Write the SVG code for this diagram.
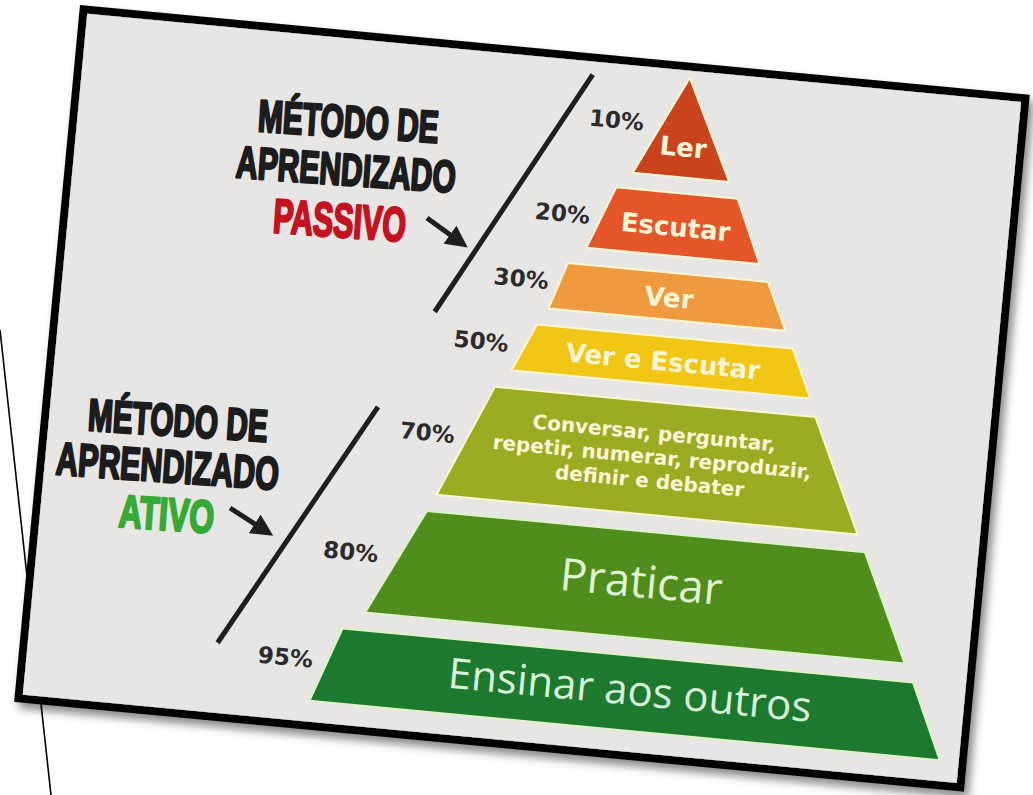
<svg xmlns="http://www.w3.org/2000/svg" width="1033" height="795" viewBox="0 0 1033 795">
<defs>
<filter id="shadow" x="-5%" y="-5%" width="112%" height="115%">
<feDropShadow dx="5" dy="6" stdDeviation="4" flood-color="#000" flood-opacity="0.45"/>
</filter>
<marker id="head" markerUnits="userSpaceOnUse" markerWidth="22" markerHeight="22" viewBox="0 0 20 20" refX="9" refY="10" orient="auto">
<path d="M0,0 L20,10 L0,20 z" fill="#1e1e1e"/>
</marker>
<style>
.layer{stroke:#fbf6d2;stroke-width:2;stroke-linejoin:round}
.glayer{stroke:#dff3c8;stroke-width:2;stroke-linejoin:round}
.lbl{font-family:"DejaVu Sans",Verdana,sans-serif;font-weight:bold;fill:#fcf5d6;text-anchor:middle}
.big{font-family:"Open Sans","Noto Sans",sans-serif;font-weight:normal;text-anchor:middle}
.pct{font-family:"DejaVu Sans",Verdana,sans-serif;font-weight:bold;font-size:23px;fill:#2b2b2b;text-anchor:middle}
.ttl{font-family:"Liberation Sans",Arial,sans-serif;font-weight:bold;font-size:45px;text-anchor:middle;stroke-width:2.5;stroke-linejoin:round}
.blk{fill:#1c1c1c;stroke:#1c1c1c}
.red{fill:#c4121f;stroke:#c4121f}
.grn{fill:#35ab35;stroke:#35ab35}
.diag{stroke:#1e1e1e;stroke-width:5;fill:none}
.arr{stroke:#1e1e1e;stroke-width:5;fill:none;marker-end:url(#head)}
</style>
</defs>
<rect width="1033" height="795" fill="#ffffff"/>
<line id="slide-line" x1="0" y1="330" x2="51" y2="795" stroke="#000" stroke-width="1.6"/>
<g id="frame" transform="translate(80,5) rotate(5.4)">
<rect x="4" y="4" width="946" height="692" fill="#e8e5e5" stroke="#000" stroke-width="8" filter="url(#shadow)"/>
</g>
<g id="pyramid" transform="translate(80,5) rotate(5.4)">
<g id="layer-ler">
<polygon class="layer" points="614,15 663,115 566,115" fill="#c9441c"/>
<text class="lbl" x="614" y="94" font-size="26">Ler</text>
</g>
<g id="layer-escutar">
<polygon class="layer" points="551,131 673,131 701,194 527,194" fill="#e5552a"/>
<text class="lbl" x="614" y="174" font-size="26">Escutar</text>
</g>
<g id="layer-ver">
<polygon class="layer" points="510,211 711,211 733,258 495,258" fill="#ef9a3e"/>
<text class="lbl" x="614" y="245" font-size="26">Ver</text>
</g>
<g id="layer-ver-escutar">
<polygon class="layer" points="485,275 742,275 764,323 464,323" fill="#f1c615"/>
<text class="lbl" x="614" y="309" font-size="26">Ver e Escutar</text>
</g>
<g id="layer-conversar">
<polygon class="layer" points="449,341 771,341 824,454 401,454" fill="#9cac22"/>
<text class="lbl" x="612" y="379" font-size="20">Conversar, perguntar,</text>
<text class="lbl" x="612" y="403" font-size="20">repetir, numerar, reproduzir,</text>
<text class="lbl" x="612" y="427" font-size="20">definir e debater</text>
</g>
<g id="layer-praticar">
<polygon class="glayer" points="393,471 833,471 883,578 341,578" fill="#4f8e1d"/>
<text class="big" x="613" y="537" font-size="45" fill="#e2f4d2">Praticar</text>
</g>
<g id="layer-ensinar">
<polygon class="glayer" points="320,596 893,596 927,671 294,671" fill="#1d792e"/>
<text class="big" x="612" y="645" font-size="42" fill="#d9f1dd">Ensinar aos outros</text>
</g>
<g id="percentages">
<text class="pct" x="545" y="72">10%</text>
<text class="pct" x="500" y="170">20%</text>
<text class="pct" x="465" y="239">30%</text>
<text class="pct" x="431" y="305">50%</text>
<text class="pct" x="386" y="401">70%</text>
<text class="pct" x="321" y="527">80%</text>
<text class="pct" x="266" y="638">95%</text>
</g>
</g>
<g id="connectors">
<g transform="translate(80,5) rotate(5.4)">
<line class="diag" x1="517" y1="21" x2="382" y2="272"/>
<line class="diag" x1="334.5" y1="372" x2="197" y2="622"/>
</g>
<line class="arr" x1="427" y1="218" x2="458" y2="240.5"/>
<line class="arr" x1="230" y1="508" x2="263" y2="529.2"/>
</g>
<g id="title-passivo">
<text class="ttl blk" transform="translate(347.5,137) rotate(3.6)" textLength="181" lengthAdjust="spacingAndGlyphs">MÉTODO DE</text>
<text class="ttl blk" transform="translate(345,185) rotate(4)" textLength="220" lengthAdjust="spacingAndGlyphs" font-size="46">APRENDIZADO</text>
<text class="ttl red" transform="translate(338.5,237) rotate(4)" textLength="133" lengthAdjust="spacingAndGlyphs" style="font-size:48px">PASSIVO</text>
</g>
<g id="title-ativo">
<text class="ttl blk" transform="translate(177,436) rotate(3.6)" textLength="180" lengthAdjust="spacingAndGlyphs">MÉTODO DE</text>
<text class="ttl blk" transform="translate(166.5,482) rotate(4)" textLength="223" lengthAdjust="spacingAndGlyphs" style="font-size:46px">APRENDIZADO</text>
<text class="ttl grn" transform="translate(165.5,530) rotate(4)" textLength="95" lengthAdjust="spacingAndGlyphs" style="font-size:46px">ATIVO</text>
</g>
</svg>
